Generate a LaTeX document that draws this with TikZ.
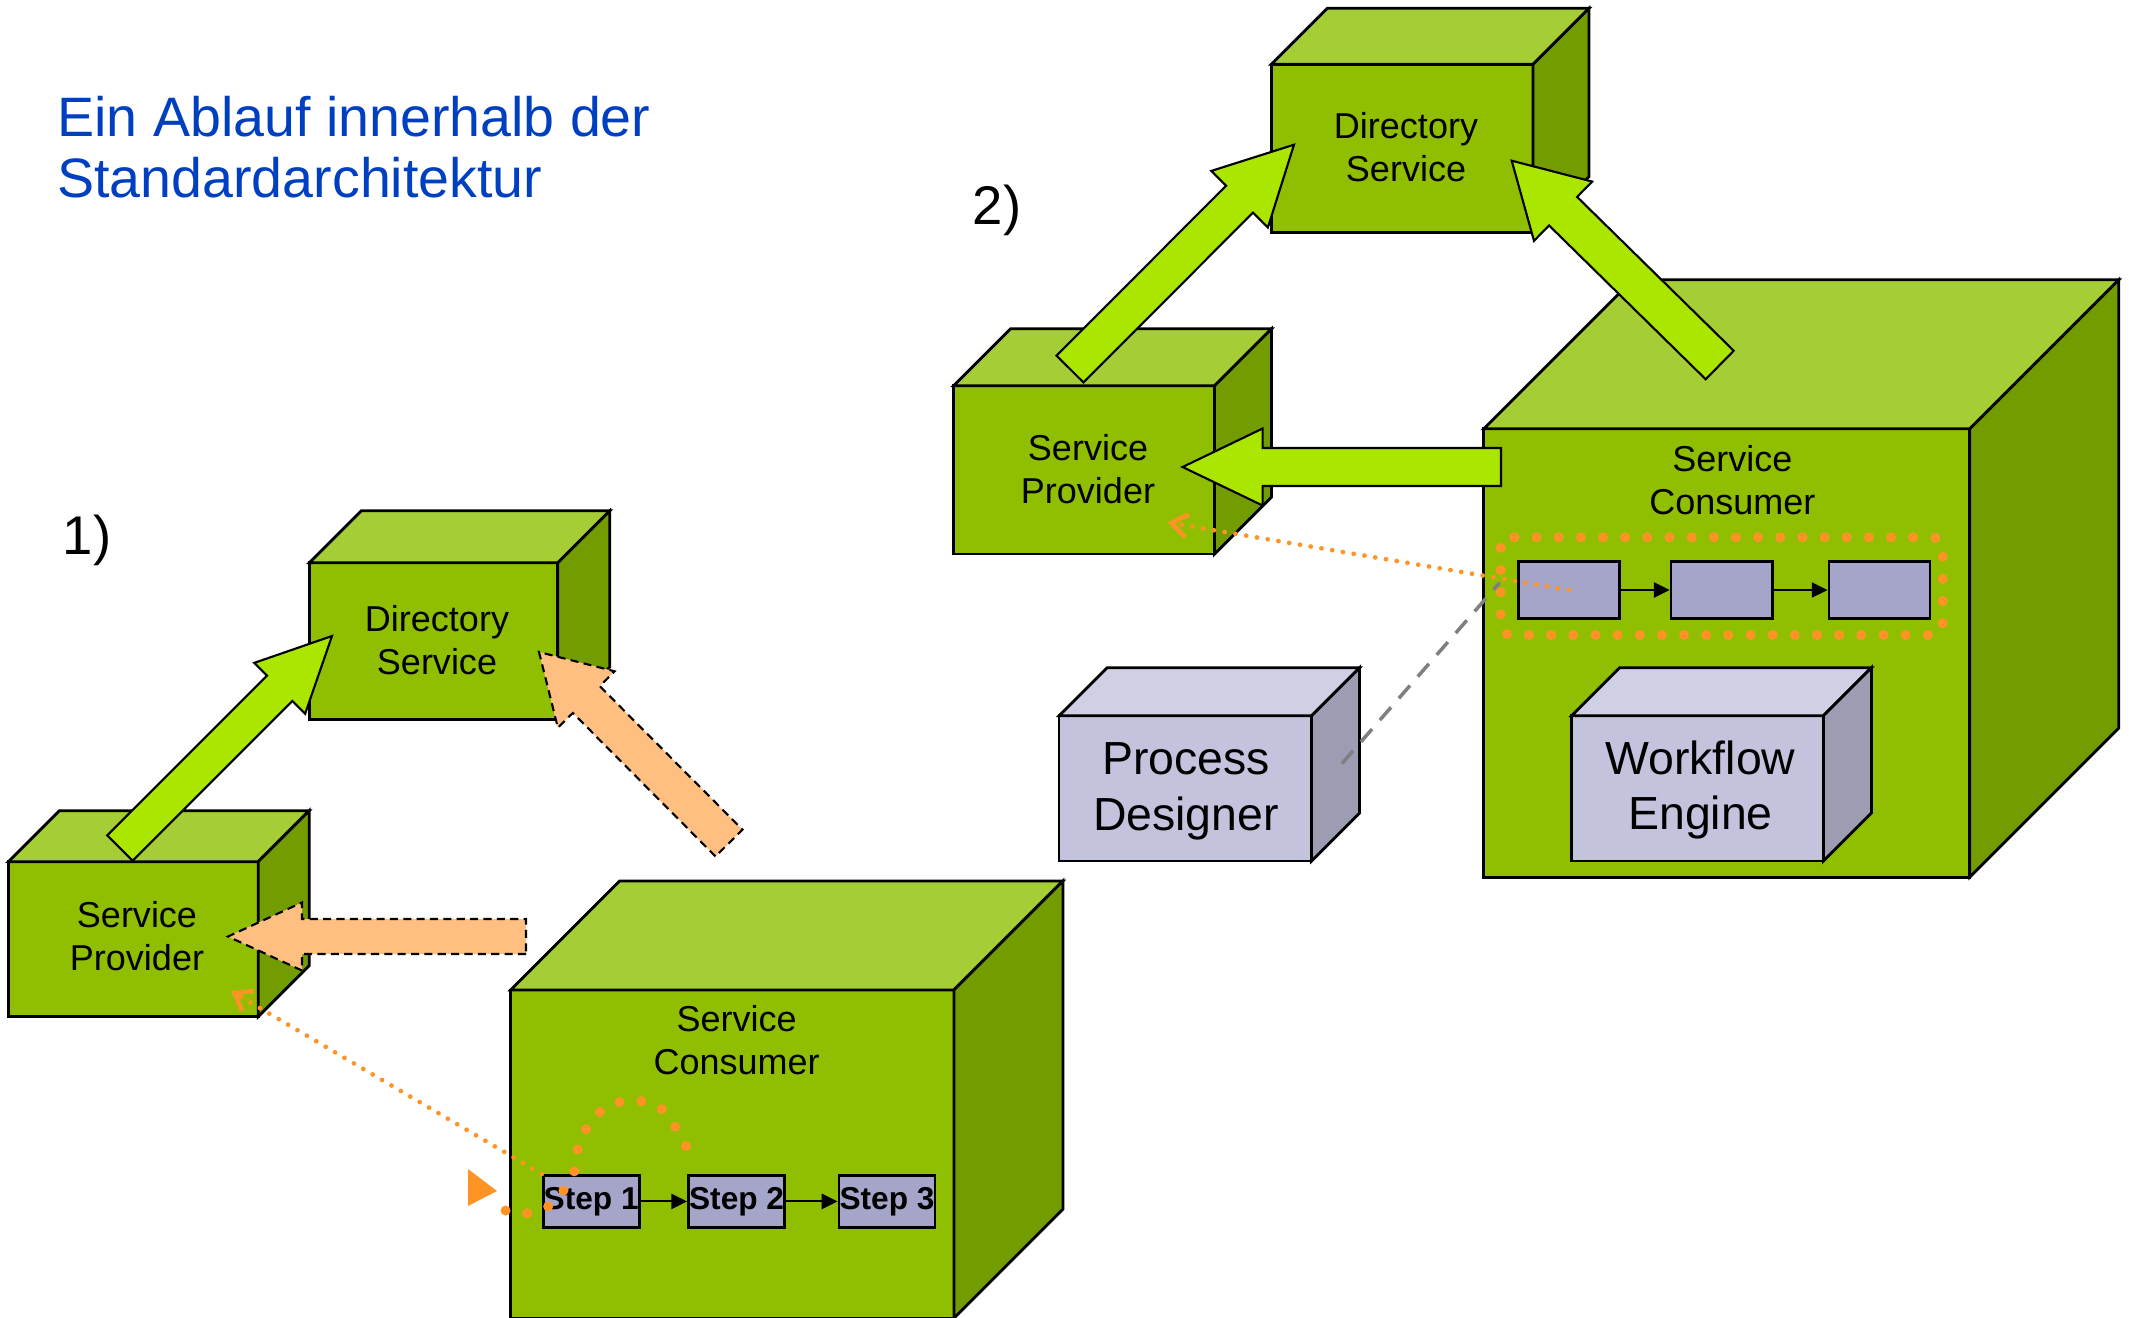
\documentclass[tikz,border=0pt]{standalone}
\usepackage{fontspec}
\setmainfont{Liberation Sans}
\usetikzlibrary{arrows.meta,calc,positioning}

\definecolor{cubefront}{HTML}{8FBF00}
\definecolor{cubetop}{HTML}{A5CD35}
\definecolor{cubeside}{HTML}{739C00}
\definecolor{arrowgreen}{HTML}{AAE600}
\definecolor{peach}{HTML}{FFBF80}
\definecolor{dotorange}{HTML}{FF9326}
\definecolor{lfront}{HTML}{C3C3DE}
\definecolor{ltop}{HTML}{D0D0E4}
\definecolor{lside}{HTML}{9C9CB3}
\definecolor{stepfill}{HTML}{A5A5CA}
\definecolor{titleblue}{HTML}{0040C0}

\tikzset{
  greenfront/.style={draw, fill=cubefront},
  greentop/.style={draw, fill=cubetop},
  greenside/.style={draw, fill=cubeside},
  lilacfront/.style={draw, fill=lfront},
  lilactop/.style={draw, fill=ltop},
  lilacside/.style={draw, fill=lside},
  greenarrow/.style={draw, line width=0.6pt, fill=arrowgreen},
  peacharrow/.style={draw, line width=0.6pt, fill=peach, dash pattern=on 2.3pt off 1.5pt},
  cubetext/.style={align=center, inner sep=0pt, font=\fontsize{10.24}{12.2}\selectfont},
  bigtext/.style={align=center, inner sep=0pt, font=\fontsize{13.2}{15.9}\selectfont},
  numtext/.style={inner sep=0pt, font=\fontsize{15.5}{17.4}\selectfont},
  titletext/.style={align=left, inner sep=0pt, text=titleblue, font=\fontsize{15.8}{17.4}\selectfont},
  stepbox/.style={draw, fill=stepfill, inner sep=0pt, minimum width=0.96cm, minimum height=0.52cm,
    font=\bfseries\fontsize{9}{10}\selectfont},
  steparrow/.style={line width=0.6pt, -{Triangle[length=4.5pt,width=4.3pt]}},
  thindots/.style={dotorange, line width=1.35pt, line cap=round, dash pattern=on 0pt off 3.1pt,
    -{Straight Barb[length=4.5pt,width=6.5pt,line width=1.3pt]}},
  bigdots/.style={dotorange, line width=2.85pt, line cap=round, dash pattern=on 0pt off 6.3pt},
  graydash/.style={gray, line width=1pt, dash pattern=on 4.8pt off 3.4pt}
}

% front face as a node, top and side faces hung on its corners
\newcommand{\drawcube}[7]{%
  \node[#2front, outer sep=0pt, inner sep=0pt, anchor=north west,
        minimum width={(#5-#3)*0.01cm}, minimum height={(#6-#4)*0.01cm}] (#1) at (#3,#4) {};
  \filldraw[#2top] (#1.north west) -- ++(#7,-#7) -- ++({#5-#3},0) -- (#1.north east) -- cycle;
  \filldraw[#2side] (#1.north east) -- ++(#7,-#7) -- ++(0,{#6-#4}) -- (#1.south east) -- cycle;
}

% block arrow: style, tail, tip, half shaft, half head, head length
\newcommand{\blockarrow}[6]{%
  \coordinate (hb) at ($(#3)!#6!(#2)$);
  \filldraw[#1] ($(#2)!#4!90:(#3)$) -- ($(hb)!#4!-90:(#2)$) -- ($(hb)!#5!-90:(#2)$) -- (#3)
    -- ($(hb)!#5!90:(#2)$) -- ($(hb)!#4!90:(#2)$) -- ($(#2)!#4!-90:(#3)$) -- cycle;
}

\begin{document}
\begin{tikzpicture}[x=0.01cm, y=-0.01cm, line width=0.8pt]
  \path[use as bounding box, clip] (0,0) rectangle (2129,1317);

  \node[titletext, anchor=north west] (title) at (56,94.5) {Ein Ablauf innerhalb der\\Standardarchitektur};
  \node[numtext] (one) at (87,540) {1)};
  \node[numtext] (two) at (997,210) {2)};

  % 1) directory lookup before the call
  \drawcube{ds1}{green}{309.4}{562.8}{557.7}{719.2}{52}
  \drawcube{sp1}{green}{8.4}{861.7}{258.2}{1016.6}{51}
  \drawcube{sc1}{green}{510.7}{989.9}{954}{1318}{109}
  \node[cubetext] (ds1text) at (437,640) {Directory\\Service};
  \node[cubetext] (sp1text) at (137,936) {Service\\Provider};
  \node[cubetext] (sc1text) at (736.6,1040.5) {Service\\Consumer};

  \coordinate (sp1up) at (120,848);   \coordinate (ds1in) at (332,636);
  \coordinate (sc1up) at (729,843);   \coordinate (ds1rt) at (539,652);
  \coordinate (sc1lt) at (526,936.5); \coordinate (sp1in) at (228,936.5);
  \blockarrow{greenarrow}{sp1up}{ds1in}{0.18cm}{0.36cm}{0.74cm}
  \blockarrow{peacharrow}{sc1up}{ds1rt}{0.19cm}{0.40cm}{0.67cm}
  \blockarrow{peacharrow}{sc1lt}{sp1in}{0.175cm}{0.34cm}{0.74cm}

  \node[stepbox] (st1) at (591.2,1201.4) {Step 1};
  \node[stepbox, right=0.465cm of st1] (st2) {Step 2};
  \node[stepbox, right=0.515cm of st2] (st3) {Step 3};
  \draw[steparrow] (st1) -- (st2);
  \draw[steparrow] (st2) -- (st3);

  \coordinate (sp1hit) at (231,991);
  \draw[thindots] (st1.north west) -- (sp1hit);
  \draw[bigdots] plot[smooth] coordinates {(686,1146) (663,1110) (631,1100) (601,1111)
    (580,1140) (574,1172) (552,1204) (519,1214) (488,1203)};
  \fill[dotorange] (468,1169) -- (468,1206) -- (497,1191) -- cycle;

  % 2) the workflow engine runs the process
  \drawcube{ds2}{green}{1271.4}{64.3}{1533}{232.5}{56}
  \drawcube{sp2}{green}{953.6}{385.8}{1214.5}{554}{57}
  \drawcube{sc2}{green}{1483.7}{428.8}{1969.7}{877.2}{149}
  \node[cubetext] (ds2text) at (1406,147) {Directory\\Service};
  \node[cubetext] (sp2text) at (1088,469) {Service\\Provider};
  \node[cubetext] (sc2text) at (1732.4,480) {Service\\Consumer};

  \coordinate (sp2up) at (1070,369);  \coordinate (ds2in) at (1294,144.7);
  \coordinate (sc2up) at (1719.7,365); \coordinate (ds2rt) at (1511.7,160.7);
  \coordinate (sc2lt) at (1501,467);  \coordinate (sp2in) at (1182.6,467);
  \blockarrow{greenarrow}{sp2up}{ds2in}{0.19cm}{0.40cm}{0.77cm}
  \blockarrow{greenarrow}{sc2up}{ds2rt}{0.20cm}{0.415cm}{0.72cm}
  \blockarrow{greenarrow}{sc2lt}{sp2in}{0.19cm}{0.385cm}{0.80cm}

  \node[stepbox, minimum width=1.01cm, minimum height=0.57cm] (bx1) at (1568.7,590) {};
  \node[stepbox, minimum width=1.01cm, minimum height=0.57cm, right=0.49cm of bx1] (bx2) {};
  \node[stepbox, minimum width=1.01cm, minimum height=0.57cm, right=0.54cm of bx2] (bx3) {};
  \draw[steparrow] (bx1) -- (bx2);
  \draw[steparrow] (bx2) -- (bx3);
  \draw[bigdots, rounded corners=3pt] (1500.7,537.3) rectangle (1942.7,635);

  \drawcube{we}{lilac}{1571.6}{715.8}{1823.4}{861}{48}
  \drawcube{pd}{lilac}{1059}{715.8}{1311.5}{861}{48}
  \node[bigtext] (wetext) at (1700.5,790) {Workflow\\Engine};
  \node[bigtext] (pdtext) at (1186,791) {Process\\Designer};

  \coordinate (pdlink) at (1342,763.5);
  \coordinate (bxlink) at (1499.6,582.7);
  \draw[graydash] (pdlink) -- (bxlink);

  \coordinate (sp2hit) at (1167.5,522.4);
  \draw[thindots] (bx1.center) -- (sp2hit);
\end{tikzpicture}
\end{document}
